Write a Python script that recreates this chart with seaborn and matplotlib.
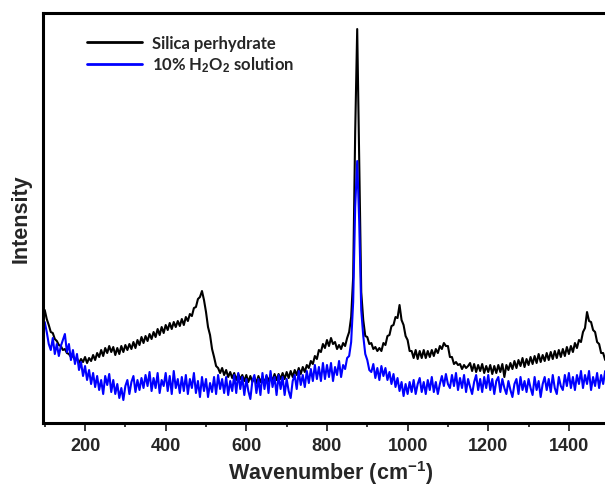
import numpy as np
import seaborn as sns
import matplotlib.pyplot as plt
from matplotlib.ticker import MultipleLocator

wavenumber = np.arange(95, 1505, 5)

silica_perhydrate = [
    107, 112, 103, 97, 90, 89, 83, 81, 77, 76,
    72, 73, 69, 68, 65, 66, 62, 64, 59, 63,
    60, 65, 59, 64, 61, 67, 62, 69, 65, 72,
    66, 74, 69, 76, 70, 75, 67, 74, 68, 76,
    70, 77, 72, 78, 73, 80, 74, 82, 77, 85,
    79, 86, 81, 88, 83, 90, 85, 93, 87, 95,
    89, 97, 92, 99, 93, 100, 95, 101, 96, 103,
    97, 105, 101, 108, 106, 114, 115, 123, 125, 131,
    122, 110, 95, 87, 73, 65, 56, 54, 49, 54,
    47, 52, 45, 50, 44, 49, 42, 48, 43, 47,
    41, 47, 40, 46, 40, 45, 39, 46, 40, 45,
    39, 46, 41, 47, 41, 48, 42, 48, 43, 49,
    43, 50, 44, 51, 45, 52, 47, 54, 48, 55,
    50, 57, 54, 61, 58, 66, 63, 72, 70, 78,
    74, 82, 76, 84, 78, 80, 73, 77, 73, 79,
    76, 84, 90, 105, 145, 290, 393, 265, 130, 102,
    86, 85, 78, 79, 73, 75, 71, 74, 71, 79,
    77, 86, 87, 96, 97, 105, 104, 117, 102, 97,
    86, 82, 71, 71, 64, 72, 63, 71, 64, 72,
    64, 71, 65, 72, 66, 73, 69, 76, 73, 79,
    76, 76, 65, 65, 58, 60, 57, 58, 53, 57,
    54, 56, 59, 51, 58, 50, 57, 51, 58, 49,
    56, 50, 57, 48, 56, 49, 57, 50, 58, 45,
    57, 52, 59, 53, 61, 54, 62, 56, 64, 55,
    63, 57, 65, 58, 66, 59, 68, 60, 67, 61,
    69, 62, 70, 63, 71, 64, 72, 65, 73, 66,
    75, 68, 76, 70, 79, 74, 82, 80, 90, 94,
    110, 101, 100, 92, 90, 80, 78, 69, 69, 62,
    64, 58,
]

h2o2_solution = [
    86, 100, 90, 78, 72, 84, 68, 78, 66, 76,
    82, 88, 70, 78, 62, 72, 58, 68, 52, 60,
    46, 56, 42, 52, 38, 49, 35, 46, 32, 42,
    28, 46, 37, 48, 30, 42, 28, 38, 24, 34,
    22, 36, 42, 28, 40, 46, 30, 42, 32, 44,
    34, 47, 36, 50, 31, 44, 34, 49, 29, 42,
    36, 49, 31, 46, 28, 51, 34, 43, 29, 45,
    31, 47, 28, 43, 34, 49, 29, 41, 25, 45,
    31, 43, 25, 39, 30, 45, 28, 47, 33, 43,
    29, 45, 27, 41, 31, 47, 29, 49, 33, 45,
    27, 43, 31, 23, 41, 47, 29, 43, 27, 49,
    33, 47, 29, 51, 35, 45, 27, 47, 33, 45,
    27, 43, 31, 24, 41, 47, 33, 51, 37, 47,
    35, 51, 39, 53, 41, 57, 43, 55, 41, 59,
    43, 57, 45, 59, 41, 55, 47, 61, 45, 57,
    53, 64, 66, 80, 120, 215, 261, 200, 112, 86,
    68, 62, 52, 50, 58, 44, 54, 42, 56, 46,
    54, 42, 50, 38, 48, 35, 44, 31, 40, 26,
    38, 28, 40, 30, 42, 28, 38, 44, 30, 40,
    28, 42, 32, 45, 30, 40, 28, 38, 46, 36,
    48, 38, 34, 47, 36, 49, 32, 44, 34, 47,
    30, 43, 35, 28, 40, 47, 32, 43, 30, 45,
    34, 47, 32, 43, 28, 41, 45, 30, 43, 34,
    28, 41, 32, 25, 38, 43, 28, 45, 32, 41,
    30, 43, 34, 27, 45, 32, 41, 25, 38, 45,
    32, 43, 30, 47, 34, 28, 45, 36, 32, 47,
    36, 49, 34, 45, 32, 47, 38, 51, 34, 47,
    38, 51, 32, 45, 36, 49, 34, 47, 38, 51,
    36, 47,
]

labels = ["Silica perhydrate", "10% H$_2$O$_2$ solution"]

sns.set_style("ticks")
plt.rcParams["font.family"] = ["Liberation Sans", "DejaVu Sans"]
plt.rcParams["mathtext.fontset"] = "custom"
plt.rcParams["mathtext.rm"] = "Liberation Sans:bold"
plt.rcParams["mathtext.it"] = "Liberation Sans:bold"
plt.rcParams["mathtext.bf"] = "Liberation Sans:bold"

fig = plt.figure(figsize=(6.05, 4.89), dpi=100)
ax = fig.add_axes([0.0706, 0.1329, 0.953, 0.8384])

sns.lineplot(x=wavenumber, y=silica_perhydrate, color="black", lw=1.5,
             label=labels[0], ax=ax)
sns.lineplot(x=wavenumber, y=h2o2_solution, color="#0000ff", lw=1.5,
             label=labels[1], ax=ax)

ax.set_xlim(95, 1525)
ax.set_ylim(-1, 409)
ax.xaxis.set_major_locator(MultipleLocator(200))
ax.xaxis.set_minor_locator(MultipleLocator(100))
ax.set_yticks([])

for side in ["left", "bottom", "top", "right"]:
    ax.spines[side].set_visible(True)
    ax.spines[side].set_linewidth(2.2)
    ax.spines[side].set_color("black")

ax.tick_params(axis="x", which="major", direction="out", length=6, width=1.3,
               labelsize=13, pad=4)
ax.tick_params(axis="x", which="minor", direction="out", length=3, width=1.3)
for t in ax.get_xticklabels():
    t.set_fontweight("bold")

ax.set_xlabel("Wavenumber (cm$^{-1}$)", fontsize=15.5, fontweight="bold", labelpad=3)
ax.set_ylabel("Intensity", fontsize=15.5, fontweight="bold", labelpad=8)

leg = ax.legend(loc="upper left", bbox_to_anchor=(0.063, 0.966), frameon=False,
                handlelength=3.3, handletextpad=0.6, labelspacing=0.2,
                borderpad=0, prop={"family": ["Lato", "DejaVu Sans"],
                                   "weight": "bold", "size": 12})
for line in leg.get_lines():
    line.set_linewidth(2)

fig.savefig("out.png", dpi=100)
